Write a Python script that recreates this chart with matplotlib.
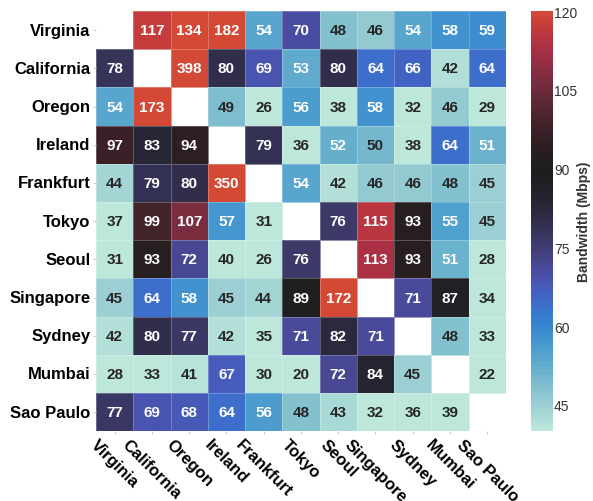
import numpy as np
import matplotlib
matplotlib.use("Agg")
import matplotlib.pyplot as plt
import seaborn as sns

regions = ["Virginia", "California", "Oregon", "Ireland", "Frankfurt", "Tokyo",
           "Seoul", "Singapore", "Sydney", "Mumbai", "Sao Paulo"]

nan = np.nan
virginia = [nan, 117, 134, 182, 54, 70, 48, 46, 54, 58, 59]
california = [78, nan, 398, 80, 69, 53, 80, 64, 66, 42, 64]
oregon = [54, 173, nan, 49, 26, 56, 38, 58, 32, 46, 29]
ireland = [97, 83, 94, nan, 79, 36, 52, 50, 38, 64, 51]
frankfurt = [44, 79, 80, 350, nan, 54, 42, 46, 46, 48, 45]
tokyo = [37, 99, 107, 57, 31, nan, 76, 115, 93, 55, 45]
seoul = [31, 93, 72, 40, 26, 76, nan, 113, 93, 51, 28]
singapore = [45, 64, 58, 45, 44, 89, 172, nan, 71, 87, 34]
sydney = [42, 80, 77, 42, 35, 71, 82, 71, nan, 48, 33]
mumbai = [28, 33, 41, 67, 30, 20, 72, 84, 45, nan, 22]
sao_paulo = [77, 69, 68, 64, 56, 48, 43, 32, 36, 39, nan]

bw = np.array([virginia, california, oregon, ireland, frankfurt, tokyo,
               seoul, singapore, sydney, mumbai, sao_paulo], dtype=float)

cbar_ticks = [45, 60, 75, 90, 105, 120]

plt.rcParams['font.family'] = ['Liberation Sans', 'DejaVu Sans']

fig = plt.figure(figsize=(5.93, 5.02), dpi=100)
ax = fig.add_axes([0.162, 0.139, 0.691, 0.837])
cax = fig.add_axes([0.895, 0.139, 0.037, 0.837])

sns.heatmap(bw, ax=ax, cbar_ax=cax, cmap="icefire", vmin=40, vmax=120, center=90,
            annot=True, fmt=".0f", annot_kws={"fontsize": 11, "fontweight": "bold"},
            linewidths=0.4, linecolor=(1, 1, 1, 0.25), mask=np.isnan(bw),
            xticklabels=regions, yticklabels=regions,
            cbar_kws={"ticks": cbar_ticks})

ax.set_yticklabels(regions, rotation=0, fontsize=12, fontweight="bold")
ax.set_xticklabels(regions, rotation=-45, ha="center", fontsize=12, fontweight="bold")
ax.tick_params(axis="both", length=2, color="#cccccc", pad=2)

cb = ax.collections[0].colorbar
cb.ax.tick_params(labelsize=10, length=0, labelcolor="#333333", pad=1)
cb.set_label("Bandwidth (Mbps)", fontsize=10, fontweight="bold", color="#333333",
             labelpad=0)

fig.savefig("out.png", dpi=100)
